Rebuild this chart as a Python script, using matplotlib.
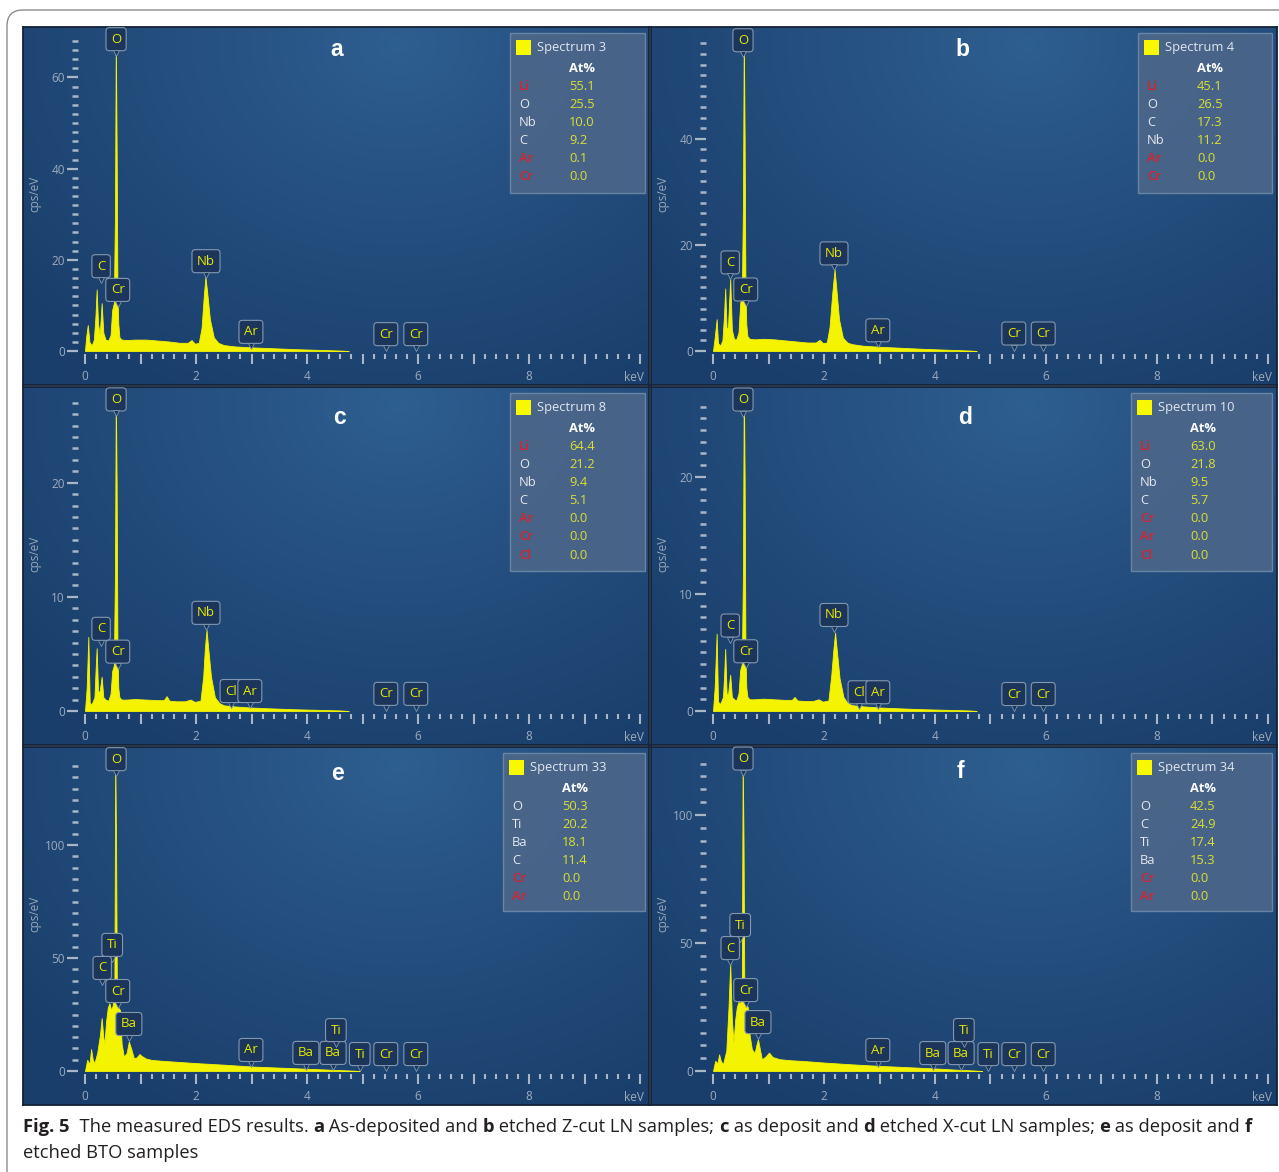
import numpy as np
import matplotlib.pyplot as plt
import matplotlib.transforms as mtransforms
from matplotlib.patches import Rectangle, FancyBboxPatch
from matplotlib.ticker import MultipleLocator, FuncFormatter

plt.rcParams['font.family'] = ['Open Sans', 'DejaVu Sans']

W, H = 1279, 1172

# ---- spectra (keV, cps/eV) ----
energy_a = [0.00, 0.02, 0.05, 0.08, 0.12, 0.16, 0.19, 0.21, 0.235, 0.265, 0.30, 0.33, 0.37, 0.42, 0.46,
            0.49, 0.52, 0.54, 0.555, 0.57, 0.585, 0.60, 0.62, 0.66, 0.75, 0.90, 1.10, 1.30, 1.50, 1.70,
            1.85, 1.92, 1.98, 2.05, 2.10, 2.14, 2.17, 2.20, 2.25, 2.32, 2.40, 2.50, 2.70, 3.00, 3.40,
            3.80, 4.20, 4.60, 4.75]
counts_a = [0.0, 3.0, 5.7, 2.0, 1.2, 2.5, 8.0, 13.5, 6.0, 3.5, 10.5, 4.0, 2.5, 2.3, 3.5,
            9.0, 10.5, 30.0, 69.0, 45.0, 12.0, 6.0, 3.0, 2.5, 2.4, 2.5, 2.5, 2.3, 2.1, 1.8,
            1.8, 2.4, 1.6, 1.8, 5.0, 12.0, 16.3, 13.0, 7.0, 3.0, 1.8, 1.3, 1.0, 0.8, 0.6,
            0.4, 0.25, 0.1, 0.0]

energy_b = [0.00, 0.03, 0.066, 0.09, 0.13, 0.17, 0.20, 0.22, 0.245, 0.27, 0.31, 0.34, 0.38, 0.42, 0.46,
            0.49, 0.52, 0.54, 0.555, 0.57, 0.585, 0.60, 0.62, 0.66, 0.75, 0.90, 1.10, 1.30, 1.50, 1.70,
            1.85, 1.92, 1.98, 2.05, 2.10, 2.15, 2.19, 2.22, 2.27, 2.34, 2.42, 2.50, 2.70, 3.00, 3.40,
            3.80, 4.20, 4.60, 4.75]
counts_b = [0.0, 2.5, 6.0, 1.5, 1.0, 2.0, 7.0, 11.8, 4.1, 4.5, 13.7, 4.0, 2.2, 2.2, 3.5,
            9.0, 10.4, 28.0, 60.0, 40.0, 11.0, 5.0, 2.8, 2.3, 2.2, 2.3, 2.2, 2.0, 1.8, 1.6,
            1.6, 2.1, 1.5, 1.6, 4.5, 11.0, 15.4, 12.0, 6.0, 2.5, 1.6, 1.3, 1.0, 0.8, 0.6,
            0.4, 0.25, 0.1, 0.0]

energy_c = [0.00, 0.03, 0.06, 0.085, 0.12, 0.17, 0.19, 0.21, 0.235, 0.26, 0.30, 0.33, 0.37, 0.42, 0.46,
            0.49, 0.52, 0.54, 0.555, 0.57, 0.585, 0.60, 0.62, 0.66, 0.75, 0.90, 1.10, 1.30, 1.42, 1.47,
            1.52, 1.65, 1.80, 1.90, 1.98, 2.08, 2.13, 2.16, 2.19, 2.22, 2.27, 2.34, 2.42, 2.50, 2.70,
            3.00, 3.40, 3.80, 4.20, 4.60, 4.75]
counts_c = [0.0, 2.0, 6.5, 0.7, 0.6, 1.2, 3.5, 5.5, 1.8, 1.6, 3.0, 1.2, 1.0, 0.9, 1.5,
            3.5, 4.0, 12.0, 28.0, 20.0, 5.0, 2.0, 1.2, 1.0, 1.0, 1.05, 1.0, 0.95, 0.95, 1.3,
            0.9, 0.85, 0.85, 1.0, 0.8, 0.9, 3.0, 5.5, 7.1, 5.5, 3.0, 1.2, 0.7, 0.5, 0.4,
            0.3, 0.22, 0.15, 0.1, 0.05, 0.0]

energy_d = [0.00, 0.03, 0.066, 0.09, 0.13, 0.18, 0.20, 0.22, 0.245, 0.27, 0.31, 0.34, 0.38, 0.42, 0.46,
            0.49, 0.52, 0.54, 0.555, 0.57, 0.585, 0.60, 0.62, 0.66, 0.75, 0.90, 1.10, 1.30, 1.42, 1.47,
            1.52, 1.65, 1.80, 1.90, 1.98, 2.08, 2.13, 2.17, 2.20, 2.23, 2.28, 2.35, 2.42, 2.50, 2.70,
            3.00, 3.40, 3.80, 4.20, 4.60, 4.75]
counts_d = [0.0, 2.0, 6.6, 0.8, 0.6, 1.2, 3.0, 5.3, 1.5, 1.4, 3.1, 1.2, 1.0, 0.9, 1.5,
            3.5, 4.0, 12.0, 28.0, 20.0, 5.0, 2.0, 1.2, 1.0, 1.0, 1.05, 1.0, 0.95, 0.95, 1.2,
            0.9, 0.85, 0.85, 1.0, 0.8, 0.9, 3.0, 5.3, 6.7, 5.2, 2.8, 1.2, 0.7, 0.5, 0.4,
            0.3, 0.22, 0.15, 0.1, 0.05, 0.0]

energy_e = [0.00, 0.04, 0.08, 0.11, 0.14, 0.17, 0.22, 0.27, 0.30, 0.33, 0.35, 0.38, 0.41, 0.44, 0.47,
            0.50, 0.53, 0.545, 0.56, 0.575, 0.60, 0.63, 0.66, 0.70, 0.75, 0.79, 0.83, 0.88, 0.93, 0.98,
            1.03, 1.10, 1.20, 1.40, 1.70, 2.00, 2.50, 3.00, 3.50, 4.00, 4.40, 4.80, 4.95]
counts_e = [0.0, 5.0, 3.0, 9.7, 5.0, 3.5, 8.0, 16.0, 23.4, 15.0, 12.0, 22.0, 28.0, 30.0, 27.0,
            29.0, 40.0, 140.0, 100.0, 32.0, 28.0, 27.0, 12.0, 6.3, 8.0, 13.0, 10.0, 5.7, 6.0, 7.5,
            6.5, 5.5, 4.9, 4.5, 4.0, 3.5, 2.8, 2.0, 1.5, 1.0, 0.6, 0.2, 0.0]

energy_f = [0.00, 0.04, 0.08, 0.11, 0.14, 0.18, 0.24, 0.28, 0.31, 0.34, 0.37, 0.40, 0.43, 0.46, 0.49,
            0.52, 0.535, 0.55, 0.565, 0.59, 0.625, 0.66, 0.70, 0.75, 0.78, 0.81, 0.84, 0.88, 0.94, 1.01,
            1.07, 1.20, 1.40, 1.70, 2.00, 2.50, 3.00, 3.50, 4.00, 4.40, 4.70, 4.85]
counts_f = [0.0, 4.0, 3.0, 6.5, 4.0, 2.6, 8.0, 25.0, 42.0, 20.0, 11.0, 20.0, 25.0, 27.0, 26.0,
            35.0, 124.0, 90.0, 30.0, 26.0, 25.0, 14.0, 8.5, 7.0, 10.0, 12.4, 9.0, 4.6, 5.5, 7.2,
            5.5, 4.6, 4.2, 3.8, 3.3, 2.6, 2.0, 1.5, 1.0, 0.5, 0.2, 0.0]

# ---- peak markers: element, energy (keV), label height (cps/eV) ----
peaks_a = [('O', 0.56, 68.4), ('C', 0.29, 18.6), ('Cr', 0.59, 13.4), ('Nb', 2.18, 19.7),
           ('Ar', 2.99, 4.2), ('Cr', 5.42, 3.7), ('Cr', 5.96, 3.7)]
peaks_b = [('O', 0.54, 58.6), ('C', 0.31, 16.7), ('Cr', 0.59, 11.6), ('Nb', 2.18, 18.4),
           ('Ar', 2.97, 3.9), ('Cr', 5.42, 3.3), ('Cr', 5.95, 3.3)]
peaks_c = [('O', 0.56, 27.3), ('C', 0.29, 7.2), ('Cr', 0.59, 5.2), ('Nb', 2.18, 8.6),
           ('Cl', 2.63, 1.75), ('Ar', 2.97, 1.75), ('Cr', 5.42, 1.5), ('Cr', 5.96, 1.5)]
peaks_d = [('O', 0.54, 26.6), ('C', 0.31, 7.3), ('Cr', 0.59, 5.1), ('Nb', 2.18, 8.2),
           ('Cl', 2.63, 1.6), ('Ar', 2.97, 1.6), ('Cr', 5.42, 1.45), ('Cr', 5.95, 1.45)]
peaks_e = [('O', 0.56, 138), ('Ti', 0.49, 55.8), ('C', 0.31, 45.6), ('Cr', 0.59, 35.4), ('Ba', 0.79, 20.8),
           ('Ar', 2.99, 9.3), ('Ba', 3.98, 8.0), ('Ba', 4.47, 8.0), ('Ti', 4.52, 18.1), ('Ti', 4.95, 7.5),
           ('Cr', 5.42, 7.5), ('Cr', 5.96, 7.5)]
peaks_f = [('O', 0.54, 122), ('Ti', 0.49, 57), ('C', 0.31, 48), ('Cr', 0.59, 31.6), ('Ba', 0.81, 19.1),
           ('Ar', 2.97, 8.2), ('Ba', 3.96, 7.0), ('Ba', 4.47, 7.0), ('Ti', 4.52, 16.0), ('Ti', 4.96, 6.6),
           ('Cr', 5.42, 6.6), ('Cr', 5.95, 6.6)]

# ---- quantification tables ----
spectrum_names = ['Spectrum 3', 'Spectrum 4', 'Spectrum 8', 'Spectrum 10', 'Spectrum 33', 'Spectrum 34']
elements_a = ['Li', 'O', 'Nb', 'C', 'Ar', 'Cr']
atpct_a = ['55.1', '25.5', '10.0', '9.2', '0.1', '0.0']
elements_b = ['Li', 'O', 'C', 'Nb', 'Ar', 'Cr']
atpct_b = ['45.1', '26.5', '17.3', '11.2', '0.0', '0.0']
elements_c = ['Li', 'O', 'Nb', 'C', 'Ar', 'Cr', 'Cl']
atpct_c = ['64.4', '21.2', '9.4', '5.1', '0.0', '0.0', '0.0']
elements_d = ['Li', 'O', 'Nb', 'C', 'Cr', 'Ar', 'Cl']
atpct_d = ['63.0', '21.8', '9.5', '5.7', '0.0', '0.0', '0.0']
elements_e = ['O', 'Ti', 'Ba', 'C', 'Cr', 'Ar']
atpct_e = ['50.3', '20.2', '18.1', '11.4', '0.0', '0.0']
elements_f = ['O', 'C', 'Ti', 'Ba', 'Cr', 'Ar']
atpct_f = ['42.5', '24.9', '17.4', '15.3', '0.0', '0.0']

panel_letters = ['a', 'b', 'c', 'd', 'e', 'f']
y_major = [20, 20, 10, 10, 50, 50]
y_top = [69.1, 59.4, 27.6, 26.9, 139.4, 123.0]

# ---- layout (pixels, from top-left of image) ----
col_x = [23, 651]
row_y = [27, 387, 747]
PW, PH = 626, 358
legend_boxes = [(510, 33, 135, 160), (1138, 33, 134, 160), (510, 393, 135, 178),
                (1131, 393, 141, 178), (503, 753, 142, 158), (1131, 753, 141, 158)]
letter_pos = [(337, 50), (962, 50), (340, 417), (965, 417), (338, 773), (960, 772)]

YEL = '#f4f400'
TICK = '#aab6c6'
RED = '#d8222e'


def rect(x, y, w, h):
    return [x / W, 1 - (y + h) / H, w / W, h / H]


fig = plt.figure(figsize=(W / 100, H / 100), dpi=100)

# outer rounded frame
fig.add_artist(FancyBboxPatch((7, -60), 1400, H - 10 + 60, boxstyle='round,pad=0,rounding_size=16',
                              transform=mtransforms.IdentityTransform(), fc='none', ec='#8c8c8c', lw=1.0))

# background gradient
gy, gx = np.mgrid[0:1:240j, 0:1:400j]
dist = np.sqrt(((gx - 0.6) / 0.8) ** 2 + ((gy - 0.95) / 1.1) ** 2)
t = np.clip(dist, 0, 1) ** 0.9
c_in = np.array([0x2e, 0x5f, 0x91]) / 255
c_out = np.array([0x1a, 0x3e, 0x6b]) / 255
grad = c_in[None, None, :] * (1 - t[..., None]) + c_out[None, None, :] * t[..., None]

energies = [energy_a, energy_b, energy_c, energy_d, energy_e, energy_f]
counts = [counts_a, counts_b, counts_c, counts_d, counts_e, counts_f]
peaks = [peaks_a, peaks_b, peaks_c, peaks_d, peaks_e, peaks_f]
elements = [elements_a, elements_b, elements_c, elements_d, elements_e, elements_f]
atpcts = [atpct_a, atpct_b, atpct_c, atpct_d, atpct_e, atpct_f]


def xfmt(v, pos):
    k = int(round(v))
    return str(k) if k % 2 == 0 and k < 10 else ''


for i in range(6):
    px = col_x[i % 2]
    py = row_y[i // 2]

    bg = fig.add_axes(rect(px, py, PW, PH))
    bg.imshow(grad, extent=[0, 1, 0, 1], origin='lower', aspect='auto')
    bg.set_xticks([])
    bg.set_yticks([])
    for s in bg.spines.values():
        s.set_color('#142238')
        s.set_linewidth(1.3)

    ax = fig.add_axes(rect(px + 62, py + 9, 555, 315))
    ax.patch.set_alpha(0)
    ax.fill_between(energies[i], counts[i], 0, color=YEL, lw=0.6, ec=YEL)
    ax.set_xlim(0, 10)
    ax.set_ylim(0, y_top[i])
    for s in ['top', 'right']:
        ax.spines[s].set_visible(False)
    ax.spines['left'].set_position(('outward', 5))
    ax.spines['bottom'].set_position(('outward', 2))
    ax.spines['left'].set_color('none')
    ax.spines['bottom'].set_color('none')

    ax.yaxis.set_major_locator(MultipleLocator(y_major[i]))
    ax.yaxis.set_minor_locator(MultipleLocator(y_major[i] / 10))
    ax.xaxis.set_major_locator(MultipleLocator(1))
    ax.xaxis.set_minor_locator(MultipleLocator(0.2))
    ax.xaxis.set_major_formatter(FuncFormatter(xfmt))
    ax.tick_params(axis='y', which='major', length=8, width=1.6, color=TICK, labelcolor='#9fabbc',
                   labelsize=8.5, pad=1.5)
    ax.tick_params(axis='y', which='minor', length=4.3, width=1.8, color=TICK)
    ax.tick_params(axis='x', which='major', length=7, width=1.5, color=TICK, labelcolor='#9fabbc',
                   labelsize=8.5, pad=5)
    ax.tick_params(axis='x', which='minor', length=3.6, width=1.5, color=TICK)
    ax.annotate('keV', xy=(9.89, 0), xycoords=('data', 'axes fraction'), xytext=(0, -14.5),
                textcoords='offset points', ha='center', va='top', fontsize=8.5, color='#9fabbc')
    ax.set_ylabel('cps/eV', color='#9aa7b8', fontsize=8.5)
    ax.yaxis.set_label_coords(-0.079, 0.5)

    # peak markers
    drop = mtransforms.offset_copy(ax.transData, fig=fig, x=0, y=-14, units='dots')
    for name, ex, ey in peaks[i]:
        ax.text(ex, ey, name, ha='center', va='center', fontsize=9.5, color='#e8e800',
                bbox=dict(boxstyle='round,pad=0.38,rounding_size=0.25', fc='#1b365a', ec='#8398b0', lw=0.8),
                zorder=5)
        ax.plot([ex], [ey], marker='v', ms=5, color='#1b365a', mec='#8398b0', mew=0.6,
                transform=drop, zorder=5, clip_on=False)

    # panel letter
    lx, ly = letter_pos[i]
    fig.text(lx / W, 1 - ly / H, panel_letters[i], color='white', fontsize=16.5, fontweight='bold',
             family='Liberation Sans', ha='center', va='center')

    # quantification table
    bx, by, bw, bh = legend_boxes[i]
    fig.add_artist(Rectangle((bx / W, 1 - (by + bh) / H), bw / W, bh / H, transform=fig.transFigure,
                             fc='#4a6689', ec='#6d87a6', lw=1.0, alpha=0.95))
    fig.add_artist(Rectangle(((bx + 6) / W, 1 - (by + 22) / H), 15 / W, 15 / H, transform=fig.transFigure,
                             fc='#f8f800', ec='none'))
    fig.text((bx + 27) / W, 1 - (by + 14) / H, spectrum_names[i], color='#e2e7ee', fontsize=9.3,
             ha='left', va='center')
    fig.text((bx + 59) / W, 1 - (by + 35) / H, 'At%', color='white', fontsize=9.3, fontweight='bold',
             ha='left', va='center')
    for j, (el, val) in enumerate(zip(elements[i], atpcts[i])):
        yy = 1 - (by + 53 + 18.2 * j) / H
        is_red = el in ('Li', 'Ar', 'Cr', 'Cl')
        fig.text((bx + 9) / W, yy, el, color=RED if is_red else '#e6e9ee',
                 fontsize=9.5 if is_red else 9.3, fontweight='semibold' if is_red else 'normal',
                 ha='left', va='center')
        fig.text((bx + 59) / W, yy, val, color='#dcdf30', fontsize=9.3, ha='left', va='center')

# ---- caption ----
line1 = [('Fig. 5', 'bold'), ('  The measured EDS results. ', 'normal'), ('a', 'bold'),
         (' As-deposited and ', 'normal'), ('b', 'bold'), (' etched Z-cut LN samples; ', 'normal'),
         ('c', 'bold'), (' as deposit and ', 'normal'), ('d', 'bold'), (' etched X-cut LN samples; ', 'normal'),
         ('e', 'bold'), (' as deposit and ', 'normal'), ('f', 'bold')]
line2 = [('etched BTO samples', 'normal')]

renderer = fig.canvas.get_renderer()


def seg_width(s, weight, size):
    a = fig.text(0, 0, s + '|', fontsize=size, fontweight=weight)
    b = fig.text(0, 0, '|', fontsize=size, fontweight=weight)
    w = a.get_window_extent(renderer).width - b.get_window_extent(renderer).width
    a.remove()
    b.remove()
    return w


base = 12.0
total = sum(seg_width(s, wt, base) for s, wt in line1)
cap_size = base * 1227 / total


def draw_line(segs, x0, yc):
    x = x0
    for s, wt in segs:
        fig.text(x / W, 1 - yc / H, s, fontsize=cap_size, fontweight=wt, color='#231f20',
                 ha='left', va='center')
        x += seg_width(s, wt, cap_size)


draw_line(line1, 23, 1127)
draw_line(line2, 23, 1153)

fig.savefig('out.png', dpi=100, facecolor='white')
